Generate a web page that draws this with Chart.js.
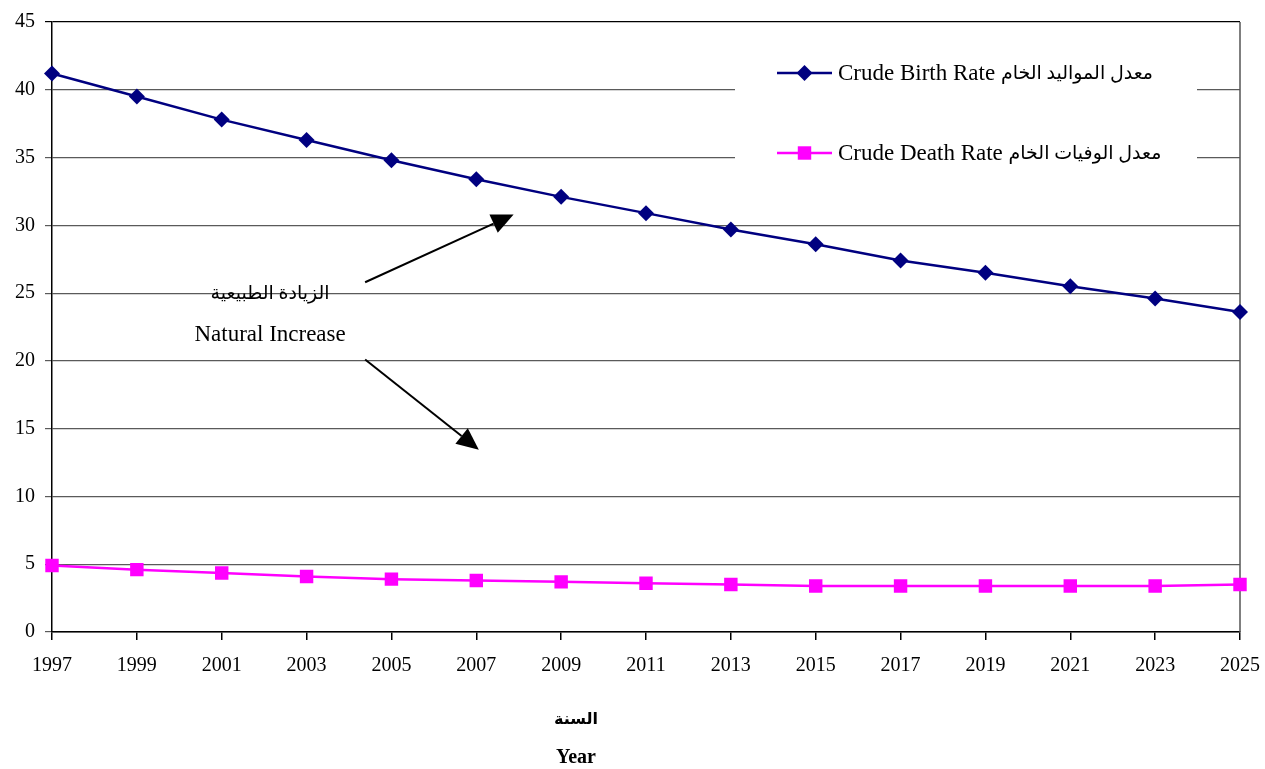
<!DOCTYPE html>
<html>
<head>
<meta charset="utf-8">
<script src="https://cdn.jsdelivr.net/npm/chart.js"></script>
<style>
  html, body { margin: 0; padding: 0; background: #fff; }
  #wrap { width: 1265px; height: 769px; position: relative; }
</style>
</head>
<body>
<div id="wrap"><canvas id="c" width="1265" height="769"></canvas></div>
<script>
// ---- data ----
const years = ['1997','1999','2001','2003','2005','2007','2009','2011','2013','2015','2017','2019','2021','2023','2025'];
const birthRate = [41.2, 39.5, 37.8, 36.3, 34.8, 33.4, 32.1, 30.9, 29.7, 28.6, 27.4, 26.5, 25.5, 24.6, 23.6];
const deathRate = [4.9, 4.6, 4.35, 4.1, 3.9, 3.8, 3.7, 3.6, 3.5, 3.4, 3.4, 3.4, 3.4, 3.4, 3.5];
const seriesLabels = ['Crude Birth Rate معدل المواليد الخام', 'Crude Death Rate معدل الوفيات الخام'];
const yTicks = [0, 5, 10, 15, 20, 25, 30, 35, 40, 45];
const annotationTexts = ['الزيادة الطبيعية', 'Natural Increase'];
const axisTitleLines = ['السنة', 'Year'];

// ---- layout / style (not data) ----
const SERIF = '"Liberation Serif", "DejaVu Sans", serif';
const LAYOUT = {
  legendBox: { x1: 735, x2: 1197, y1: 35, y2: 190 },
  legendRows: [73, 153],
  legendLineX: [777, 832],
  legendTextX: 838,
  legendLatinSize: 23,
  legendArabicSize: 19,
  annoText: [{ i: 2.57, v: 24.95, size: 19 }, { i: 2.57, v: 21.95, size: 23 }],
  arrows: [
    { from: { i: 3.69, v: 25.8 }, to: { i: 5.44, v: 30.8 } },
    { from: { i: 3.69, v: 20.1 }, to: { i: 5.03, v: 13.45 } }
  ],
  titleX: 576, titleY: [720, 758], titleSizes: [16, 20]
};

function drawMarker(ctx, style, x, y, r, color) {
  ctx.save();
  ctx.fillStyle = color;
  ctx.beginPath();
  if (style === 'rectRot') {
    ctx.moveTo(x, y - r); ctx.lineTo(x + r, y); ctx.lineTo(x, y + r); ctx.lineTo(x - r, y);
  } else {
    const s = r * Math.SQRT1_2;
    ctx.rect(x - s, y - s, 2 * s, 2 * s);
  }
  ctx.closePath();
  ctx.fill();
  ctx.restore();
}

function arrow(ctx, x1, y1, x2, y2) {
  const ang = Math.atan2(y2 - y1, x2 - x1);
  const hl = 22, hw = 10;
  const bx = x2 - hl * Math.cos(ang), by = y2 - hl * Math.sin(ang);
  ctx.save();
  ctx.strokeStyle = '#000'; ctx.fillStyle = '#000'; ctx.lineWidth = 2;
  ctx.beginPath(); ctx.moveTo(x1, y1); ctx.lineTo(bx, by); ctx.stroke();
  ctx.beginPath();
  ctx.moveTo(x2, y2);
  ctx.lineTo(bx + hw * Math.sin(ang), by - hw * Math.cos(ang));
  ctx.lineTo(bx - hw * Math.sin(ang), by + hw * Math.cos(ang));
  ctx.closePath(); ctx.fill();
  ctx.restore();
}

// split a bilingual label into its Latin and Arabic parts (for separate font sizes)
function splitLabel(s) {
  const idx = s.search(/[\u0600-\u06FF]/);
  if (idx < 0) return [s, ''];
  return [s.slice(0, idx), s.slice(idx)];
}

const overlay = {
  id: 'overlay',
  beforeDatasetsDraw(chart) {
    const ctx = chart.ctx, a = chart.chartArea;
    ctx.save();
    ctx.strokeStyle = '#555'; ctx.lineWidth = 1.5;
    ctx.beginPath(); ctx.moveTo(a.right, a.top); ctx.lineTo(a.right, a.bottom); ctx.stroke();
    const b = LAYOUT.legendBox;
    ctx.fillStyle = '#fff';
    ctx.fillRect(b.x1, b.y1, b.x2 - b.x1, b.y2 - b.y1);
    chart.data.datasets.forEach((ds, k) => {
      const y = LAYOUT.legendRows[k];
      ctx.strokeStyle = ds.borderColor; ctx.lineWidth = 2.5;
      ctx.beginPath(); ctx.moveTo(LAYOUT.legendLineX[0], y); ctx.lineTo(LAYOUT.legendLineX[1], y); ctx.stroke();
      drawMarker(ctx, ds.pointStyle, (LAYOUT.legendLineX[0] + LAYOUT.legendLineX[1]) / 2, y, ds.pointRadius, ds.pointBackgroundColor);
      const [latin, arabic] = splitLabel(ds.label);
      ctx.fillStyle = '#000';
      ctx.textAlign = 'left'; ctx.textBaseline = 'middle';
      ctx.direction = 'ltr';
      ctx.font = LAYOUT.legendLatinSize + 'px ' + SERIF;
      ctx.fillText(latin, LAYOUT.legendTextX, y + 1);
      const w = ctx.measureText(latin).width;
      ctx.font = LAYOUT.legendArabicSize + 'px ' + SERIF;
      ctx.direction = 'rtl'; ctx.textAlign = 'left';
      ctx.fillText(arabic, LAYOUT.legendTextX + w, y + 1);
    });
    ctx.restore();
  },
  afterDraw(chart) {
    const ctx = chart.ctx, xs = chart.scales.x, ys = chart.scales.y;
    const px = i => xs.left + (xs.right - xs.left) * i / (years.length - 1);
    ctx.save();
    ctx.fillStyle = '#000'; ctx.textAlign = 'center'; ctx.textBaseline = 'middle';
    LAYOUT.annoText.forEach((t, k) => {
      ctx.font = t.size + 'px ' + SERIF;
      ctx.fillText(annotationTexts[k], px(t.i), ys.getPixelForValue(t.v));
    });
    LAYOUT.arrows.forEach(ar => {
      arrow(ctx, px(ar.from.i), ys.getPixelForValue(ar.from.v), px(ar.to.i), ys.getPixelForValue(ar.to.v));
    });
    axisTitleLines.forEach((t, k) => {
      ctx.font = 'bold ' + LAYOUT.titleSizes[k] + 'px ' + SERIF;
      ctx.fillText(t, LAYOUT.titleX, LAYOUT.titleY[k]);
    });
    ctx.restore();
  }
};

new Chart(document.getElementById('c'), {
  type: 'line',
  data: {
    labels: years,
    datasets: [
      {
        label: seriesLabels[0], data: birthRate,
        borderColor: '#000080', backgroundColor: '#000080',
        pointBackgroundColor: '#000080', pointBorderColor: '#000080',
        pointStyle: 'rectRot', pointRadius: 8, pointBorderWidth: 0,
        borderWidth: 2.5, tension: 0
      },
      {
        label: seriesLabels[1], data: deathRate,
        borderColor: '#FF00FF', backgroundColor: '#FF00FF',
        pointBackgroundColor: '#FF00FF', pointBorderColor: '#FF00FF',
        pointStyle: 'rect', pointRadius: 9.5, pointBorderWidth: 0,
        borderWidth: 2.5, tension: 0
      }
    ]
  },
  options: {
    responsive: false,
    animation: false,
    events: [],
    layout: { padding: { top: 21, right: 25, left: 0, bottom: 0 } },
    plugins: { legend: { display: false }, tooltip: { enabled: false } },
    scales: {
      x: {
        type: 'category', offset: false,
        afterFit(s) { s.height = 137; s.paddingLeft = 0; s.paddingRight = 0; },
        grid: { drawOnChartArea: false, drawTicks: true, tickLength: 8, color: '#000', lineWidth: 1.5 },
        border: { color: '#000', width: 1.5 },
        ticks: { color: '#000', font: { family: SERIF, size: 20 }, padding: 14, maxRotation: 0, autoSkip: false }
      },
      y: {
        min: 0, max: 45,
        afterFit(s) { s.width = 52; },
        afterBuildTicks(s) { s.ticks = yTicks.map(v => ({ value: v })); },
        grid: {
          color: c => (c.tick && c.tick.value === 45 ? '#000' : '#5a5a5a'),
          lineWidth: 1.2, tickLength: 7, drawTicks: true
        },
        border: { color: '#000', width: 1.5 },
        ticks: { color: '#000', font: { family: SERIF, size: 20 }, padding: 10 }
      }
    }
  },
  plugins: [overlay]
});
</script>
</body>
</html>
